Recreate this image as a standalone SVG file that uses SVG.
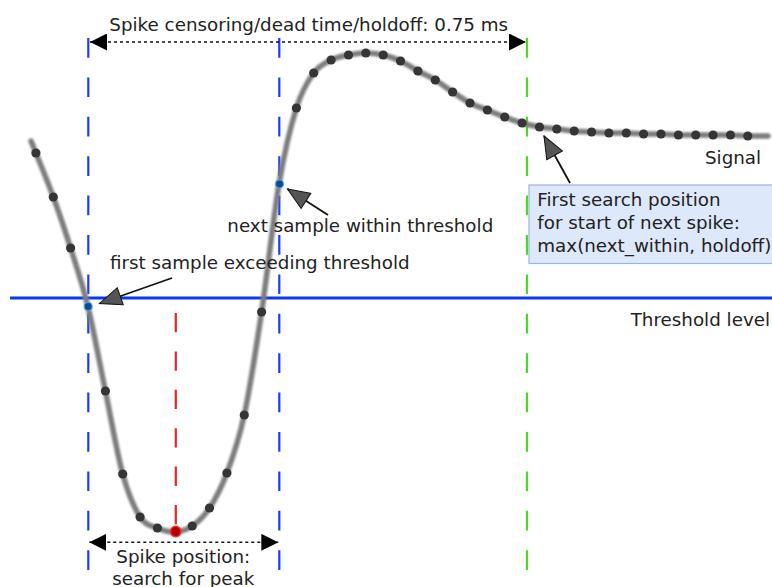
<svg xmlns="http://www.w3.org/2000/svg" width="772" height="587" viewBox="0 0 772 587">
<defs>
<style>
text{font-family:"DejaVu Sans","Liberation Sans",sans-serif;font-size:18.3px;fill:#222}
.vdash{fill:none;stroke-width:2.2;stroke-dasharray:19.7 19.7}
.dim{fill:none;stroke:#111;stroke-width:1.6;stroke-dasharray:3 3}
.ann{fill:none;stroke:#111;stroke-width:1.8}
.dot{fill:#353535}
</style>
<marker id="dimArrow" viewBox="0 0 17 17" refX="17" refY="8.5" markerWidth="17" markerHeight="17" markerUnits="userSpaceOnUse" orient="auto-start-reverse">
<path d="M0,0 L17,8.5 L0,17 z" fill="#000"/>
</marker>
<marker id="annArrow" viewBox="-1 -1 25 20" refX="22" refY="9" markerWidth="25" markerHeight="20" markerUnits="userSpaceOnUse" orient="auto">
<path d="M0,0 L22,9 L0,18 z" fill="#555" stroke="#111" stroke-width="1"/>
</marker>
<filter id="blur" x="-5%" y="-5%" width="110%" height="110%">
<feGaussianBlur stdDeviation="1.2"/>
</filter>
</defs>
<rect width="772" height="587" fill="#fff"/>

<g id="guides">
<line class="vdash" x1="88.3" y1="38" x2="88.3" y2="570" stroke="#1a3cff"/>
<line class="vdash" x1="279.3" y1="38" x2="279.3" y2="570" stroke="#1a3cff"/>
<line class="vdash" x1="527" y1="38" x2="527" y2="570" stroke="#44dd22"/>
<line class="vdash" x1="175.8" y1="313" x2="175.8" y2="525" stroke="#ee2222" style="stroke-dasharray:19.3 19.1"/>
</g>

<g id="threshold">
<line x1="10" y1="298" x2="772" y2="298" stroke="#0a38f5" stroke-width="3"/>
<text x="630.7" y="325.7">Threshold level</text>
</g>

<g id="signal">
<path filter="url(#blur)" fill="none" stroke="#7d7d7d" stroke-width="5.5" stroke-linecap="round" d="M31,141 C32,143.5 32.2,143.7 35.9,153 S47.5,181.2 53.3,197 S64.8,229.7 70.6,248 S82.2,283.2 88,307 S99.6,363.2 105.4,391 S116.9,453 122.7,474 S134.3,508 140.1,517 S151.6,525.5 157.4,528 S169,532.3 174.8,532 S186.4,530 192.2,526 S203.7,516.8 209.5,508 S221.1,488.5 226.9,473 S238.5,441.8 244.3,415 S255.8,350.5 261.6,312 S273.2,218 279,184 S290.6,126.5 296.4,108 S307.9,81 313.7,73 S325.3,63 331.1,60 S342.7,56.2 348.5,55 S360,53 365.8,53 S377.4,53.7 383.2,55 S394.7,58.3 400.5,61 S412.1,67.8 417.9,71 S429.5,76.5 435.3,80 S446.8,88.2 452.6,92 S464.2,100 470,103 S481.6,107.7 487.4,110 S498.9,114.8 504.7,117 S516.3,121.3 522.1,123 S533.7,126 539.5,127 S551,128.3 556.8,129 S568.4,130.5 574.2,131 S585.8,131.7 591.6,132 S603.1,132.8 608.9,133 S620.5,132.8 626.3,133 S637.8,133.8 643.6,134 S655.2,133.8 661,134 S672.6,134.8 678.4,135 S689.9,135 695.7,135 S707.3,135 713.1,135 S724.7,134.8 730.5,135 S742,135.8 747.8,136 S762,136 768,136"/>
<g class="dot">
<circle cx="35.9" cy="153" r="4.6"/>
<circle cx="53.3" cy="197" r="4.6"/>
<circle cx="70.6" cy="248" r="4.6"/>
<circle cx="105.4" cy="391" r="4.6"/>
<circle cx="122.7" cy="474" r="4.6"/>
<circle cx="140.1" cy="517" r="4.6"/>
<circle cx="157.4" cy="528" r="4.6"/>
<circle cx="192.2" cy="526" r="4.6"/>
<circle cx="209.5" cy="508" r="4.6"/>
<circle cx="226.9" cy="473" r="4.6"/>
<circle cx="244.3" cy="415" r="4.6"/>
<circle cx="261.6" cy="312" r="4.6"/>
<circle cx="296.4" cy="108" r="4.6"/>
<circle cx="313.7" cy="73" r="4.6"/>
<circle cx="331.1" cy="60" r="4.6"/>
<circle cx="348.5" cy="55" r="4.6"/>
<circle cx="365.8" cy="53" r="4.6"/>
<circle cx="383.2" cy="55" r="4.6"/>
<circle cx="400.5" cy="61" r="4.6"/>
<circle cx="417.9" cy="71" r="4.6"/>
<circle cx="435.3" cy="80" r="4.6"/>
<circle cx="452.6" cy="92" r="4.6"/>
<circle cx="470" cy="103" r="4.6"/>
<circle cx="487.4" cy="110" r="4.6"/>
<circle cx="504.7" cy="117" r="4.6"/>
<circle cx="522.1" cy="123" r="4.6"/>
<circle cx="539.5" cy="127" r="4.6"/>
<circle cx="556.8" cy="129" r="4.6"/>
<circle cx="574.2" cy="131" r="4.6"/>
<circle cx="591.6" cy="132" r="4.6"/>
<circle cx="608.9" cy="133" r="4.6"/>
<circle cx="626.3" cy="133" r="4.6"/>
<circle cx="643.6" cy="134" r="4.6"/>
<circle cx="661" cy="134" r="4.6"/>
<circle cx="678.4" cy="135" r="4.6"/>
<circle cx="695.7" cy="135" r="4.6"/>
<circle cx="713.1" cy="135" r="4.6"/>
<circle cx="730.5" cy="135" r="4.6"/>
<circle cx="747.8" cy="136" r="4.6"/>
</g>
<circle cx="88.2" cy="306.5" r="4" fill="#0d4a8f" stroke="#5aa2e6" stroke-width="1.2"/>
<circle cx="279.5" cy="184" r="4" fill="#0d4a8f" stroke="#5aa2e6" stroke-width="1.2"/>
<circle cx="175.7" cy="531.5" r="5.2" fill="#b00000" stroke="#ff2a2a" stroke-width="1.5"/>
<text x="705" y="164">Signal</text>
</g>

<g id="holdoff-label">
<text x="109.3" y="31">Spike censoring/dead time/holdoff: 0.75 ms</text>
</g>

<g id="first-sample-label">
<text x="110" y="269.3">first sample exceeding threshold</text>
</g>

<g id="next-sample-label">
<text x="227.3" y="232.3">next sample within threshold</text>
</g>

<g id="search-box">
<rect x="529" y="185" width="250" height="78.5" fill="#dde8fb" stroke="#9db4da" stroke-width="1.2"/>
<text x="537.3" y="205.7">First search position</text>
<text x="537.3" y="228.5">for start of next spike:</text>
<text x="537.3" y="251.7">max(next_within, holdoff)</text>
</g>

<g id="peak-label">
<text x="183.3" y="562.7" text-anchor="middle">Spike position:</text>
<text x="183.3" y="584.5" text-anchor="middle">search for peak</text>
</g>

<g id="connectors">
<line class="dim" x1="90" y1="42" x2="526" y2="42" marker-start="url(#dimArrow)" marker-end="url(#dimArrow)"/>
<line class="dim" x1="89.3" y1="542.3" x2="278.3" y2="542.3" marker-start="url(#dimArrow)" marker-end="url(#dimArrow)"/>
<line class="ann" x1="172" y1="278" x2="99.5" y2="303.5" marker-end="url(#annArrow)"/>
<line class="ann" x1="328" y1="215" x2="287.5" y2="189" marker-end="url(#annArrow)"/>
<line class="ann" x1="570" y1="183" x2="544" y2="136" marker-end="url(#annArrow)"/>
</g>
</svg>
